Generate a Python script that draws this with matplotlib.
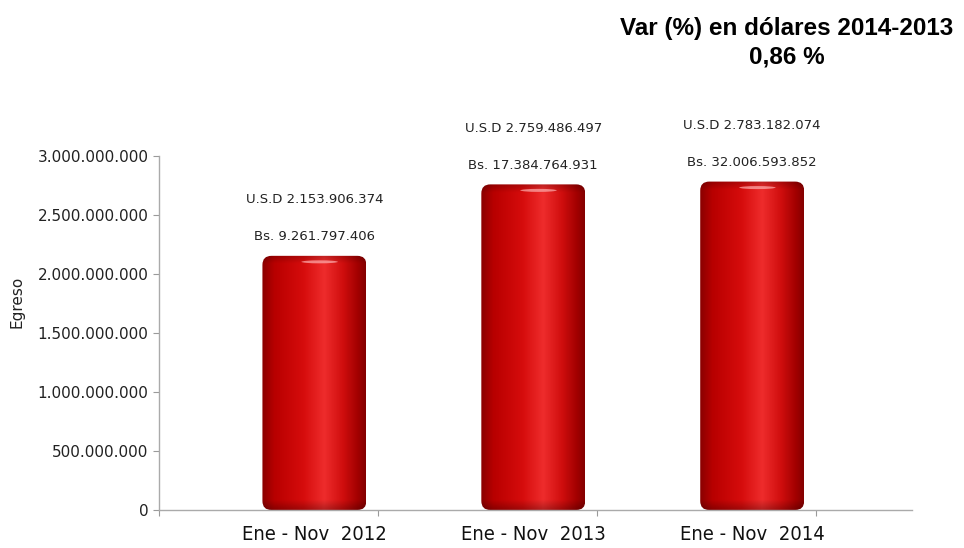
import numpy as np
import matplotlib
matplotlib.use("Agg")
import matplotlib.pyplot as plt
from matplotlib.patches import FancyBboxPatch, Ellipse
from matplotlib.colors import to_rgb
from matplotlib.ticker import FuncFormatter

# datos del grafico
periodos = ["Ene - Nov  2012", "Ene - Nov  2013", "Ene - Nov  2014"]
egreso_usd = [2153906374, 2759486497, 2783182074]
etiqueta_usd = ["U.S.D 2.153.906.374", "U.S.D 2.759.486.497", "U.S.D 2.783.182.074"]
etiqueta_bs = ["Bs. 9.261.797.406", "Bs. 17.384.764.931", "Bs. 32.006.593.852"]
titulo = "Var (%) en dólares 2014-2013\n0,86 %"

W, H = 964, 548
fig = plt.figure(figsize=(W / 100, H / 100), dpi=100)
ax = fig.add_axes([159 / W, 1 - 510 / H, (912 - 159) / W, (510 - 156) / H])

ymax = 3e9
ax.set_ylim(0, ymax)
ax.set_xlim(-0.5, 2.94)

desplaz = 0.21
ancho = 0.475
xs = np.arange(len(periodos)) + desplaz

# degradado horizontal para simular cilindro
paradas = [(0.0, "#8a0000"), (0.12, "#b80000"), (0.4, "#d60c0c"),
           (0.6, "#ee2c2c"), (0.78, "#d00e0e"), (0.93, "#a00000"), (1.0, "#840000")]
nx = 200
t = np.linspace(0, 1, nx)
perfil = np.zeros((nx, 3))
for c in range(3):
    perfil[:, c] = np.interp(t, [p for p, _ in paradas], [to_rgb(col)[c] for _, col in paradas])

px_x = 1 / 219.0
px_y = ymax / 354.0
aspecto = px_y / px_x

barras = ax.bar(xs, egreso_usd, width=ancho, color="none", edgecolor="none")
for b in barras:
    x0, y0 = b.get_x(), b.get_y()
    w, h = b.get_width(), b.get_height()
    ny = 300
    img = np.tile(perfil[None, :, :], (ny, 1, 1))
    # oscurecer base y borde superior
    v = np.linspace(0, 1, ny)[:, None]
    sombra = 1 - 0.2 * np.clip((v * h / px_y - (h / px_y - 8)) / 8, 0, 1)
    base = 1 - 0.25 * np.clip((10 - v * h / px_y) / 10, 0, 1)
    img = img * (sombra * base)[:, :, None]
    patch = FancyBboxPatch((x0, y0), w, h, boxstyle="round,pad=0,rounding_size=%f" % (9 * px_x),
                           mutation_aspect=aspecto, facecolor="none", edgecolor="none")
    ax.add_patch(patch)
    im = ax.imshow(img, extent=[x0, x0 + w, y0, y0 + h], origin="lower",
                   aspect="auto", zorder=2, interpolation="bilinear")
    im.set_clip_path(patch)
    brillo = Ellipse((x0 + w * 0.55, h - 6 * px_y), w * 0.35, 3 * px_y,
                     facecolor="#ffb0b0", edgecolor="none", alpha=0.7, zorder=3)
    ax.add_patch(brillo)

for x, v, usd, bs in zip(xs, egreso_usd, etiqueta_usd, etiqueta_bs):
    ax.annotate(usd, (x, v), xytext=(0, 56), textcoords="offset pixels",
                ha="center", va="center", fontsize=9.5, color="#222222")
    ax.annotate(bs, (x, v), xytext=(0, 19), textcoords="offset pixels",
                ha="center", va="center", fontsize=9.5, color="#222222")

# ejes
for lado in ["top", "right"]:
    ax.spines[lado].set_visible(False)
for lado in ["left", "bottom"]:
    ax.spines[lado].set_color("#aaaaaa")
    ax.spines[lado].set_linestyle((0, (1, 1)))
    ax.spines[lado].set_linewidth(1.0)

ax.set_yticks(np.arange(0, 3.01e9, 5e8))
ax.yaxis.set_major_formatter(FuncFormatter(lambda v, p: "0" if v == 0 else f"{int(v):,}".replace(",", ".")))
ax.tick_params(axis="y", labelsize=11, colors="#9a9a9a", labelcolor="#222222", length=4, width=0.8)

ax.set_xticks(xs)
ax.set_xticklabels(periodos, fontsize=14.5, fontstretch="condensed", color="#111111")
ax.tick_params(axis="x", length=0, pad=11)
ax.set_xticks([-0.5, 0.5, 1.5, 2.5], minor=True)
ax.tick_params(axis="x", which="minor", length=4, width=0.8, colors="#9a9a9a")

fig.text(17 / W, 1 - 302 / H, "Egreso", rotation=90, ha="center", va="center",
         fontsize=11, color="#222222")

fig.text(787 / W, 1 - 43 / H, titulo, ha="center", va="center", fontsize=17.5,
         fontweight="bold", family="Liberation Sans", linespacing=1.3)

fig.savefig("out.png", dpi=100)
